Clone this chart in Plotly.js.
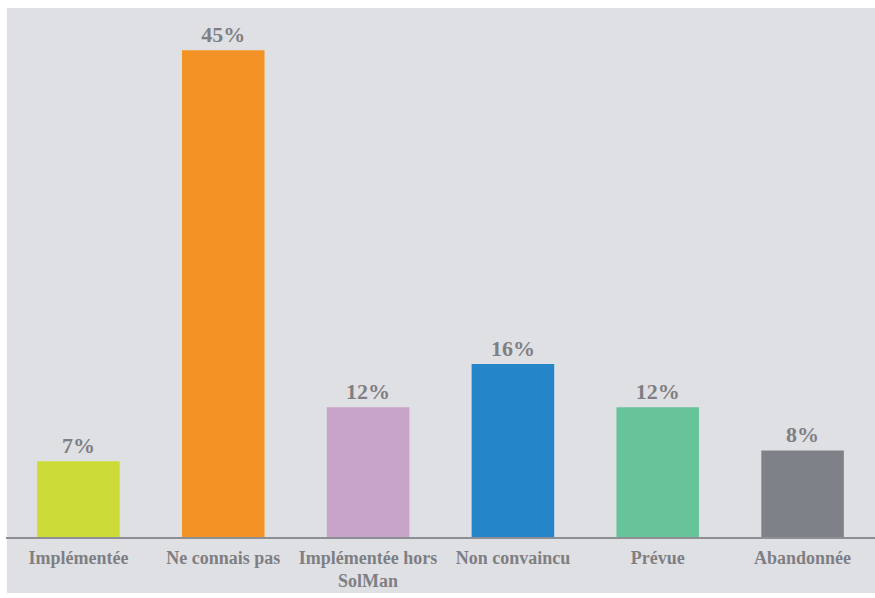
<!DOCTYPE html>
<html>
<head>
<meta charset="utf-8">
<script src="https://cdn.plot.ly/plotly-3.0.1.min.js"></script>
<style>html,body{margin:0;padding:0;background:#fff;}#chart{width:875px;height:598px;}</style>
</head>
<body>
<div id="chart"></div>
<script>
const categories = ["Implémentée", "Ne connais pas", "Implémentée hors<br>SolMan", "Non convaincu", "Prévue", "Abandonnée"];
const values = [7, 45, 12, 16, 12, 8];
const valueLabels = ["7%", "45%", "12%", "16%", "12%", "8%"];
const barColors = ["#ccdb37", "#f49325", "#c8a4c8", "#2485c9", "#66c39a", "#7e8187"];

const serif = "Liberation Serif";
const textFont = {family: serif, size: 22, color: "#7f7f83", weight: "bold"};

const trace = {
  type: "bar",
  x: categories,
  y: values,
  text: valueLabels,
  textposition: "outside",
  textfont: textFont,
  cliponaxis: false,
  marker: {color: barColors, line: {width: 0}},
  hoverinfo: "none"
};

const layout = {
  width: 875,
  height: 598,
  margin: {l: 6, r: 0, t: 8, b: 61},
  paper_bgcolor: "#ffffff",
  plot_bgcolor: "rgba(0,0,0,0)",
  bargap: 0.43,
  showlegend: false,
  font: {family: serif, color: "#7f7f83"},
  xaxis: {
    type: "category",
    showgrid: false,
    zeroline: false,
    showline: true,
    linecolor: "#8e8f94",
    linewidth: 2,
    ticks: "",
    ticklabelstandoff: 3,
    tickfont: {family: serif, size: 18, color: "#7f7f83", weight: "bold"},
    fixedrange: true
  },
  yaxis: {
    range: [0, 48.9],
    showgrid: false,
    zeroline: false,
    showline: false,
    showticklabels: false,
    ticks: "",
    fixedrange: true
  },
  shapes: [{
    type: "rect",
    xref: "paper", yref: "paper",
    x0: 0.001, x1: 1.01, y0: -0.106, y1: 1,
    fillcolor: "#dfe0e4",
    line: {width: 0},
    layer: "below"
  }]
};

Plotly.newPlot("chart", [trace], layout, {displayModeBar: false, staticPlot: true});
</script>
</body>
</html>
